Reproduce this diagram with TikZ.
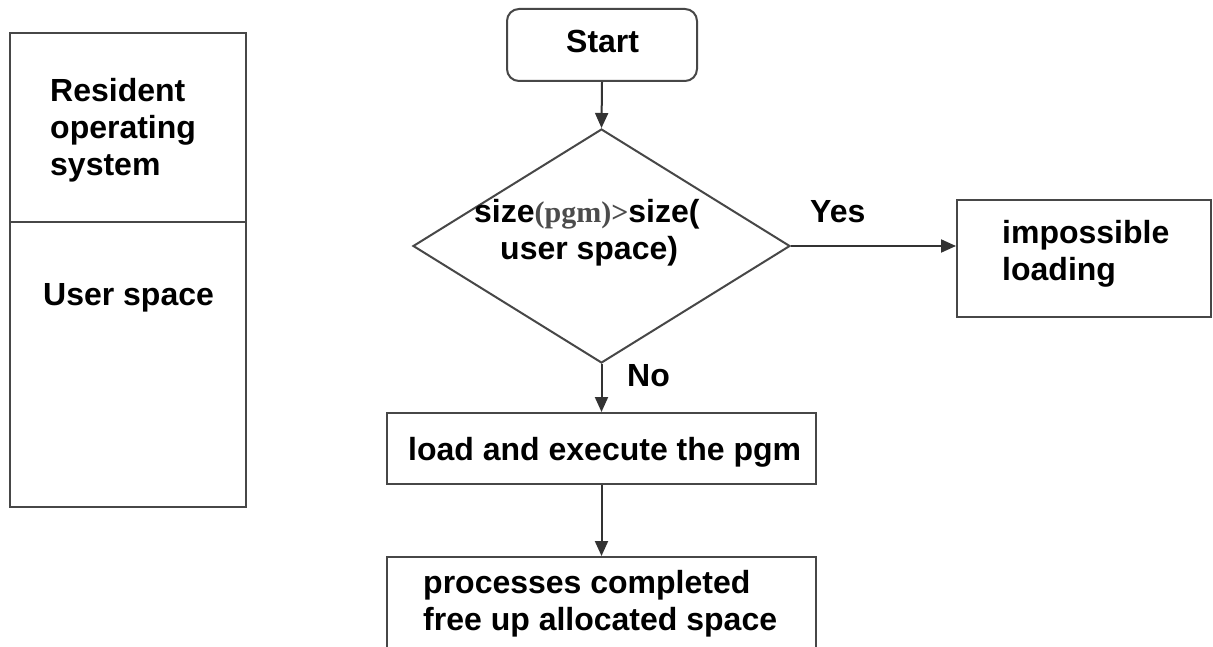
\documentclass[tikz,border=0pt]{standalone}
\usepackage{fontspec}
\setmainfont{Liberation Sans}
\newfontfamily\serifb{Liberation Serif}
\usetikzlibrary{arrows.meta,shapes.geometric}
\begin{document}
\begin{tikzpicture}[x=1pt,y=-1pt,
  shape box/.style={draw=black!72, line width=2pt, inner sep=0pt, rectangle},
  lbl/.style={anchor=base west, inner sep=0pt, font=\bfseries\fontsize{32}{37}\selectfont, align=left},
  arr/.style={draw=black!80, line width=2pt, -{Triangle[length=15pt,width=13pt]}}]
\clip (0,0) rectangle (1213,647);
\fill[white] (0,0) rectangle (1213,647);
% memory layout
\node[shape box, minimum width=236pt, minimum height=189pt] (memtop) at (128,127.5) {};
\node[shape box, minimum width=236pt, minimum height=285pt] (membot) at (128,364.5) {};
\node[lbl] (res) at (50,176) {Resident\\operating\\system};
\node[lbl] (usr) at (43,305) {User space};
% flowchart
\node[shape box, rounded corners=12pt, minimum width=190pt, minimum height=72pt] (start) at (602,45) {};
\node[lbl] (starttxt) at (566,53) {Start};
\node[draw=black!72, line width=2pt, diamond, inner sep=0pt, minimum width=377pt, minimum height=234pt] (dec) at (601.5,246) {};
\node[lbl] (dec1) at (474,223) {size{\serifb\fontsize{30}{36}\selectfont\color{black!70}(pgm)>}size(};
\node[lbl] (dec2) at (500,260) {user space)};
\node[shape box, minimum width=254pt, minimum height=117pt] (imp) at (1084,258.5) {};
\node[lbl] (imptxt) at (1002,280) {impossible\\loading};
\node[shape box, minimum width=429pt, minimum height=71pt] (load) at (601.5,448.5) {};
\node[lbl] (loadtxt) at (408,460) {load and execute the pgm};
\node[shape box, minimum width=429pt, minimum height=123pt] (proc) at (601.5,618.5) {};
\node[lbl] (proctxt) at (423,630) {processes completed\\free up allocated space};
% labels
\node[lbl] (yes) at (810,223) {Yes};
\node[lbl] (no) at (627,386) {No};
% connectors
\draw[arr] (start.south) -- (dec.north);
\draw[arr] (dec.east) -- (dec.east -| imp.west);
\draw[arr] (dec.south) -- (load.north);
\draw[arr] (load.south) -- (proc.north);
\end{tikzpicture}
\end{document}
